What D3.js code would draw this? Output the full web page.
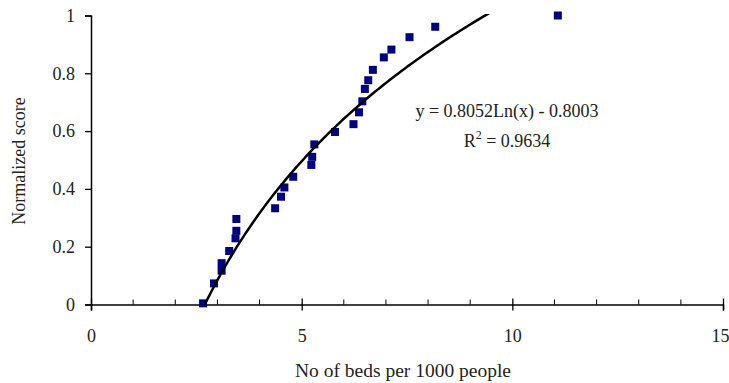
<!DOCTYPE html>
<html>
<head>
<meta charset="utf-8">
<script src="https://cdn.jsdelivr.net/npm/d3@7"></script>
<style>
  body { margin: 0; background: #fff; }
</style>
</head>
<body>
<svg id="chart" width="729" height="383"></svg>
<script>
// beds per 1000 people vs normalized score
var beds = [2.66, 2.92, 3.10, 3.10, 3.28, 3.43, 3.45, 3.45, 4.37, 4.51, 4.59, 4.80, 5.23, 5.25,
            5.30, 5.79, 6.23, 6.36, 6.44, 6.50, 6.58, 6.69, 6.95, 7.13, 7.56, 8.17, 11.08];
var score = [0.004, 0.073, 0.117, 0.143, 0.185, 0.229, 0.255, 0.296, 0.333, 0.373, 0.405, 0.442, 0.483, 0.511,
             0.554, 0.597, 0.624, 0.665, 0.703, 0.746, 0.776, 0.812, 0.855, 0.882, 0.925, 0.961, 1.0];
var xTicks = [0, 5, 10, 15];
var xMinor = [1, 2, 3, 4, 6, 7, 8, 9, 11, 12, 13, 14];
var yTicks = [0, 0.2, 0.4, 0.6, 0.8, 1];
var fitA = 0.8052, fitB = -0.8003; // y = a ln(x) + b
var eqText = "y = 0.8052Ln(x) - 0.8003";
var r2Text = "0.9634";

var FONT = "'Liberation Serif', 'Times New Roman', Times, serif";
var svg = d3.select("#chart");
var x = d3.scaleLinear().domain([0, 15]).range([91, 723]);
var y = d3.scaleLinear().domain([0, 1]).range([304.5, 15.5]);

svg.append("defs").append("clipPath").attr("id", "plotclip")
    .append("rect").attr("x", 91).attr("y", 14).attr("width", 632).attr("height", 291);

// y axis
var yAxis = svg.append("g").attr("transform", "translate(91,0)")
    .call(d3.axisLeft(y).tickValues(yTicks).tickSize(6).tickPadding(10)
        .tickFormat(d => d3.format("")(d)));

// x axis: major ticks cross, minor ticks inside
var xAxis = svg.append("g").attr("transform", "translate(0,304.5)")
    .call(d3.axisBottom(x).tickValues(xTicks).tickSize(6).tickPadding(19));
xAxis.selectAll(".tick line").attr("y1", -6);
xAxis.selectAll(".tick").filter(d => d === 15).select("text")
    .attr("text-anchor", "end").attr("x", 6);
xAxis.selectAll("line.minor").data(xMinor).enter().append("line")
    .attr("class", "minor")
    .attr("x1", d => x(d)).attr("x2", d => x(d))
    .attr("y1", 0).attr("y2", -5)
    .attr("stroke", "#000");

svg.selectAll(".domain").attr("stroke", "#000").attr("stroke-width", 1.5);
svg.selectAll(".tick line").attr("stroke", "#000").attr("stroke-width", 1.3);

// points
svg.append("g").selectAll("rect")
    .data(beds)
    .enter()
    .append("rect")
    .attr("x", (d, i) => x(d) - 4)
    .attr("y", (d, i) => y(score[i]) - 4)
    .attr("width", 8)
    .attr("height", 8)
    .attr("fill", "#000080");

// log trend line
var xs = d3.range(d3.min(beds), d3.max(beds), 0.05);
svg.append("path")
    .datum(xs)
    .attr("clip-path", "url(#plotclip)")
    .attr("fill", "none")
    .attr("stroke", "#000")
    .attr("stroke-width", 2.5)
    .attr("d", d3.line().x(d => x(d)).y(d => y(fitA * Math.log(d) + fitB)));

// equation label
svg.append("text").attr("x", 507).attr("y", 117)
    .attr("text-anchor", "middle")
    .text(eqText);
var r2 = svg.append("text").attr("x", 507).attr("y", 147)
    .attr("text-anchor", "middle");
r2.append("tspan").text("R");
r2.append("tspan").attr("dy", -8).style("font-size", "12px").text("2");
r2.append("tspan").attr("dy", 8).text(" = " + r2Text);

// axis titles
svg.append("text").attr("x", 403).attr("y", 377)
    .attr("text-anchor", "middle").style("font-size", "19.5px")
    .text("No of beds per 1000 people");
svg.append("text")
    .attr("transform", "translate(25,161) rotate(-90)")
    .attr("text-anchor", "middle")
    .text("Normalized score");

svg.selectAll("text").style("font-family", FONT);
svg.selectAll("text").filter(function () { return !this.style.fontSize; }).style("font-size", "18px");
svg.selectAll(".tick text").style("fill", "#222");
svg.selectAll("svg > text").style("fill", "#222");
</script>
</body>
</html>
